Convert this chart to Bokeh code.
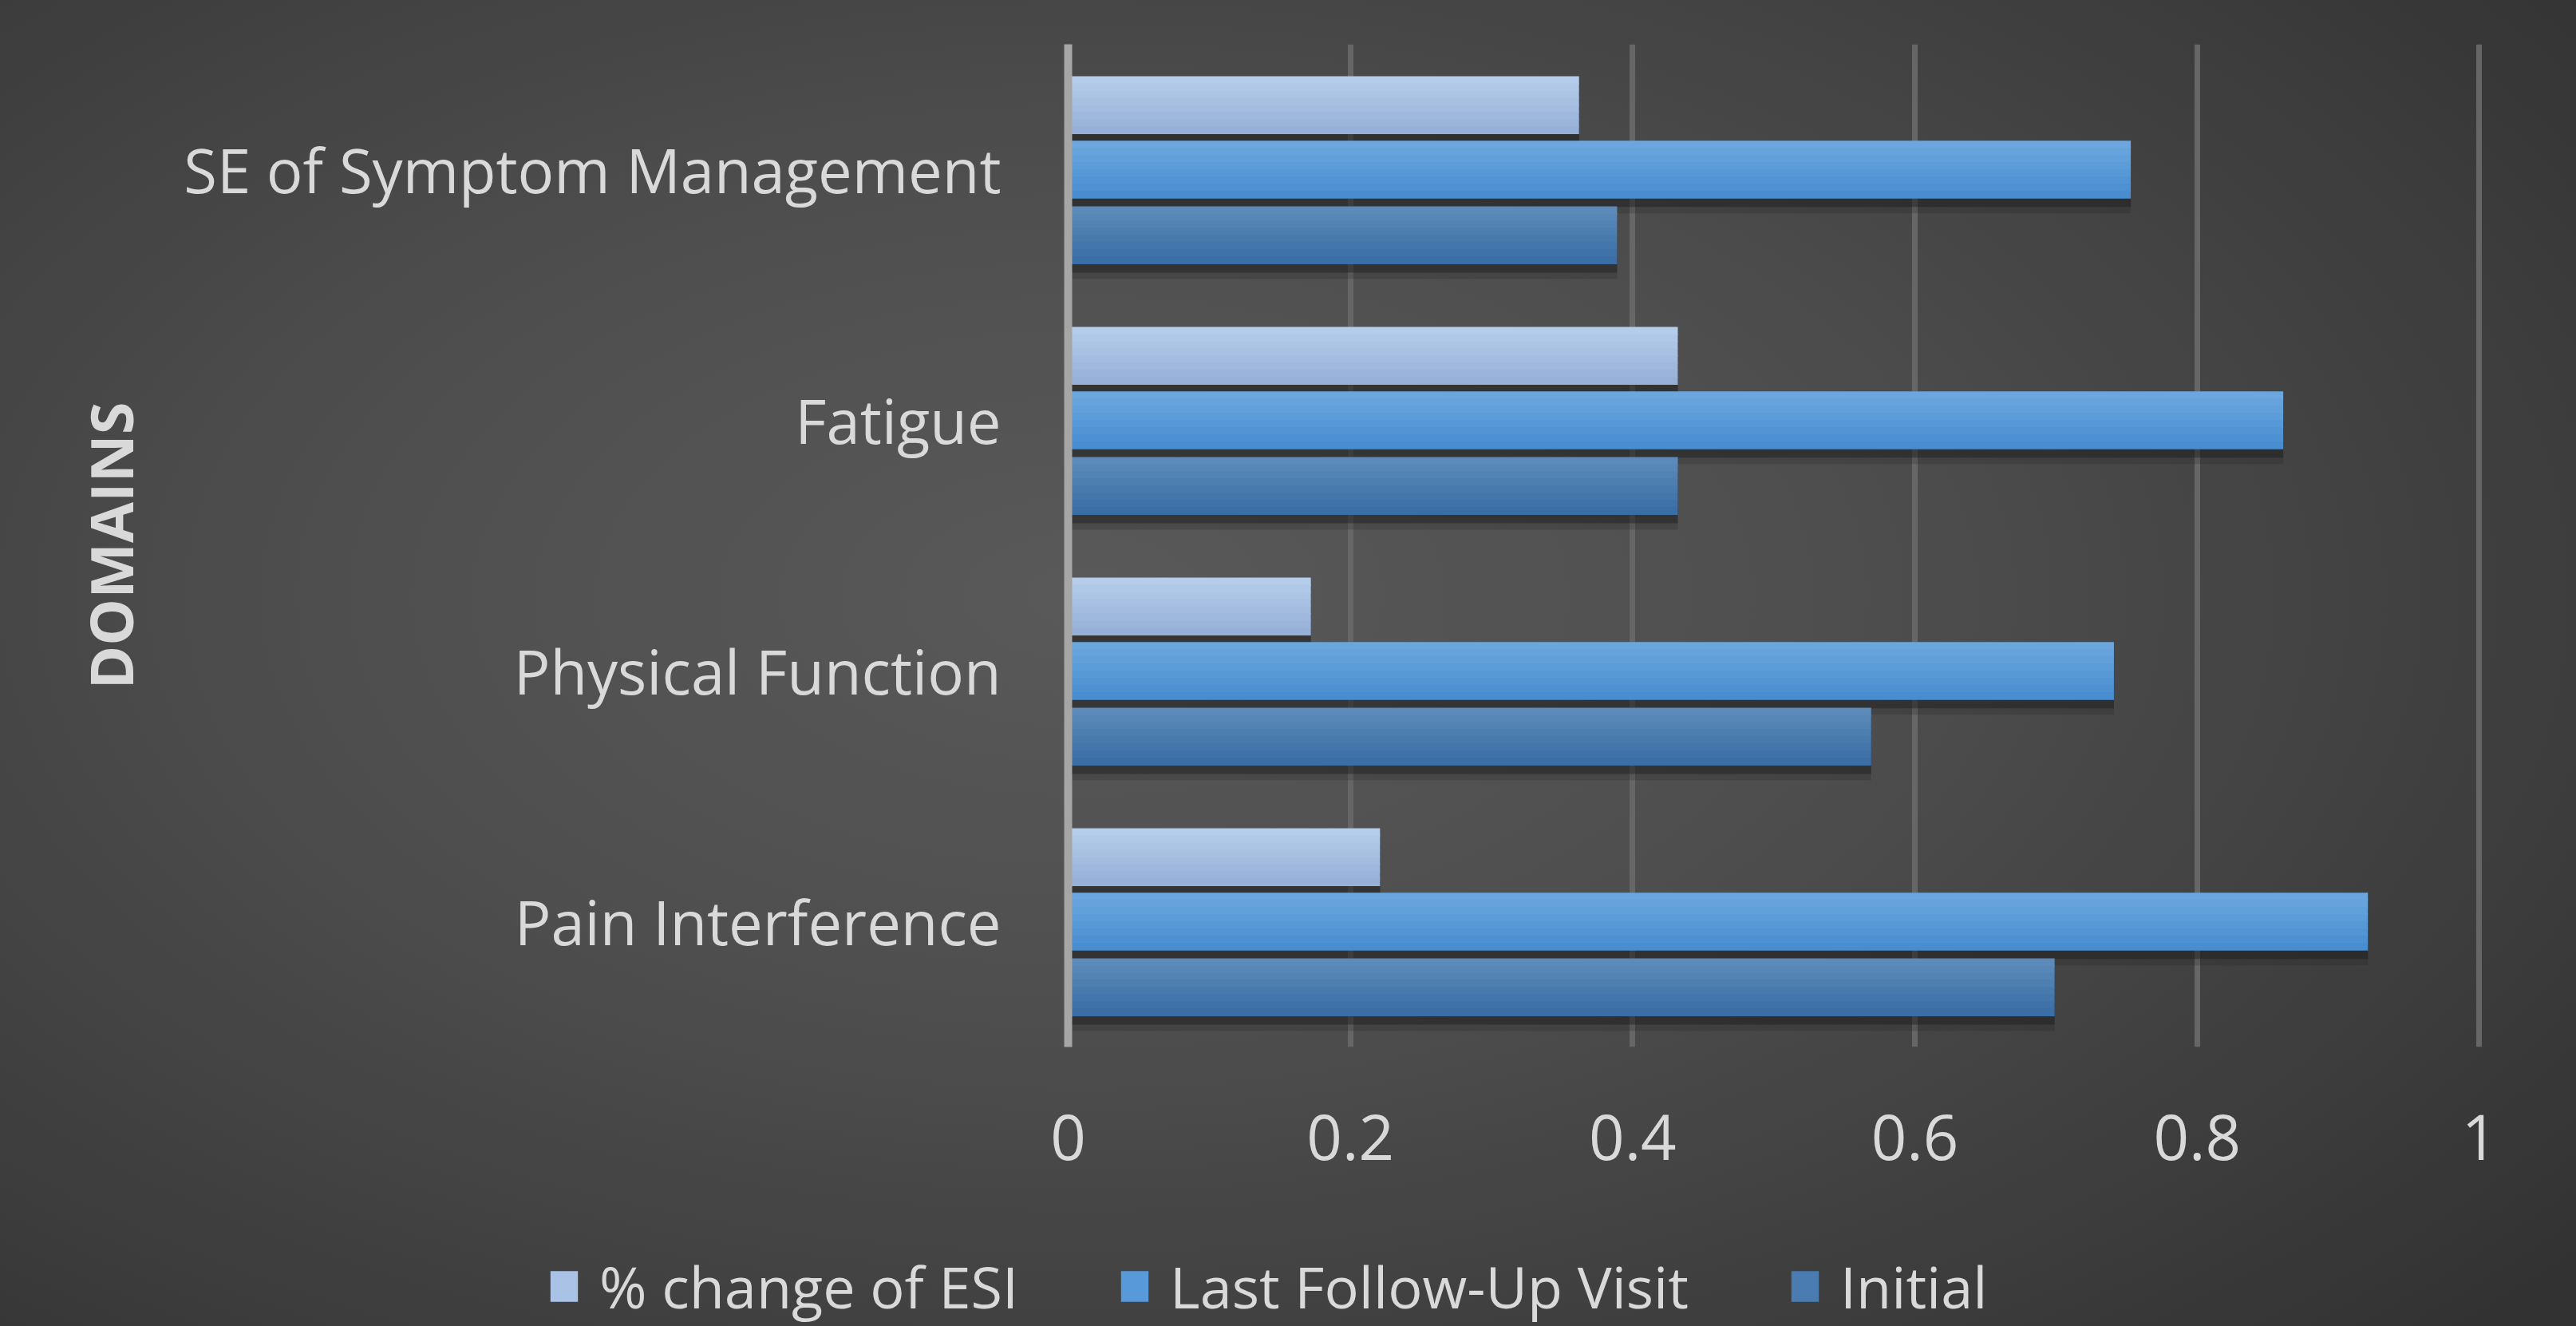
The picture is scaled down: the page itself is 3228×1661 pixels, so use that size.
from bokeh.plotting import figure
from bokeh.models import FactorRange, Range1d, FixedTicker, Legend, LegendItem
from bokeh.layouts import column, row
from bokeh.transform import dodge
from bokeh.embed import file_html
from bokeh.resources import INLINE

# ---- data ----
categories = ["Pain Interference", "Physical Function", "Fatigue", "SE of Symptom Management"]
pct_change_esi = [0.221, 0.172, 0.432, 0.362]
last_follow_up = [0.921, 0.741, 0.861, 0.753]
initial = [0.699, 0.569, 0.432, 0.389]
series_names = ["% change of ESI", "Last Follow-Up Visit", "Initial"]
tick_values = [0, 0.2, 0.4, 0.6, 0.8, 1]
tick_labels = ["0", "0.2", "0.4", "0.6", "0.8", "1"]

FONT = "Open Sans"
TXT = "#d9d9d9"
colors = ["#aac2e5", "#5799d9", "#4a7cb1"]
tops = ["#b7cfec", "#6ea9df", "#5e8dbb"]
bottoms = ["#95aed6", "#458bcf", "#386ca4"]

W, H = 3228, 1661
LEG_H = 140
src = dict(cat=categories, pct=pct_change_esi, last=last_follow_up, init=initial)
fields = ["pct", "last", "init"]
offsets = [0.257, 0.0, -0.262]
bar_h = 0.228


def mix(c1, c2, t):
    a = [int(c1[i:i + 2], 16) for i in (1, 3, 5)]
    b = [int(c2[i:i + 2], 16) for i in (1, 3, 5)]
    return "#" + "".join(f"{round(x + (y - x) * t):02x}" for x, y in zip(a, b))


# ---------------- main chart ----------------
p = figure(
    width=W, height=H - LEG_H,
    y_range=FactorRange(*categories, range_padding=0),
    x_range=Range1d(0, 1.002),
    output_backend="svg", toolbar_location=None,
    min_border_left=1338, min_border_right=118,
    min_border_top=55, min_border_bottom=H - LEG_H - 1311,
)
p.background_fill_alpha = 0
p.border_fill_alpha = 0
p.outline_line_color = None

# soft shadows below bars
for f, off in zip(fields, offsets):
    p.hbar(y=dodge("cat", off - 0.035, range=p.y_range), left=0, right=f, height=bar_h,
           source=src, fill_color="#1c1c1c", fill_alpha=0.45, line_color=None)
    p.hbar(y=dodge("cat", off - 0.06, range=p.y_range), left=0, right=f, height=bar_h,
           source=src, fill_color="#1c1c1c", fill_alpha=0.2, line_color=None)

# bars, drawn as thin horizontal strips to give the vertical shading
N = 8
for f, off, ct, cb in zip(fields, offsets, tops, bottoms):
    for k in range(N):
        t = (k + 0.5) / N
        y_off = off + bar_h / 2 - t * bar_h
        p.hbar(y=dodge("cat", y_off, range=p.y_range), left=0, right=f, height=bar_h / N + 0.003,
               source=src, fill_color=mix(ct, cb, t), line_color=None)

p.xaxis.ticker = FixedTicker(ticks=tick_values)
p.xaxis.major_label_overrides = {v: l for v, l in zip(tick_values, tick_labels)}
p.xaxis.axis_line_color = None
p.xaxis.major_tick_line_color = None
p.xaxis.minor_tick_line_color = None
p.xaxis.major_label_standoff = 78
p.xaxis.major_label_text_font = FONT
p.xaxis.major_label_text_font_size = "78px"
p.xaxis.major_label_text_color = TXT

p.yaxis.axis_line_color = "#a6a6a6"
p.yaxis.axis_line_width = 10
p.yaxis.major_tick_line_color = None
p.yaxis.minor_tick_line_color = None
p.yaxis.major_label_standoff = 78
p.yaxis.major_label_text_font = FONT
p.yaxis.major_label_text_font_size = "76px"
p.yaxis.major_label_text_color = TXT
p.yaxis.axis_label = "DOMAINS"
p.yaxis.axis_label_text_font = FONT
p.yaxis.axis_label_text_font_style = "bold"
p.yaxis.axis_label_text_font_size = "74px"
p.yaxis.axis_label_text_color = TXT
p.yaxis.axis_label_standoff = 38

p.xgrid.grid_line_color = "#666666"
p.xgrid.grid_line_width = 7
p.ygrid.grid_line_color = None

# ---------------- legend strip ----------------
q = figure(
    width=W, height=LEG_H,
    y_range=FactorRange(*categories), x_range=Range1d(0, 1),
    x_axis_type=None, y_axis_type=None,
    output_backend="svg", toolbar_location=None,
    min_border=0, min_border_left=0, min_border_right=0, min_border_top=0, min_border_bottom=0,
)
q.background_fill_alpha = 0
q.border_fill_alpha = 0
q.outline_line_color = None
q.grid.grid_line_color = None

leg_renderers = []
for f, c in zip(fields, colors):
    r = q.hbar(y="cat", left=0, right=f, height=0.5, source=src, fill_color=c, line_color=None)
    r.visible = False
    leg_renderers.append(r)

legend = Legend(
    items=[LegendItem(label=n, renderers=[r]) for n, r in zip(series_names, leg_renderers)],
    orientation="horizontal", location=(685, 1),
    glyph_width=43, glyph_height=48, label_standoff=23, spacing=124,
    label_text_font=FONT, label_text_font_size="72px", label_text_color=TXT,
    background_fill_alpha=0, border_line_alpha=0, padding=0, margin=0,
    inactive_fill_alpha=0,
)
q.add_layout(legend, "center")

lay = column(p, row(q), spacing=0)
lay.styles = {"background": "radial-gradient(ellipse 75% 80% at 42% 45%, #595959 0%, #4e4e4e 40%, #3e3e3e 75%, #323232 100%)"}

html = file_html(lay, INLINE)
open("out.html", "w").write(html)
